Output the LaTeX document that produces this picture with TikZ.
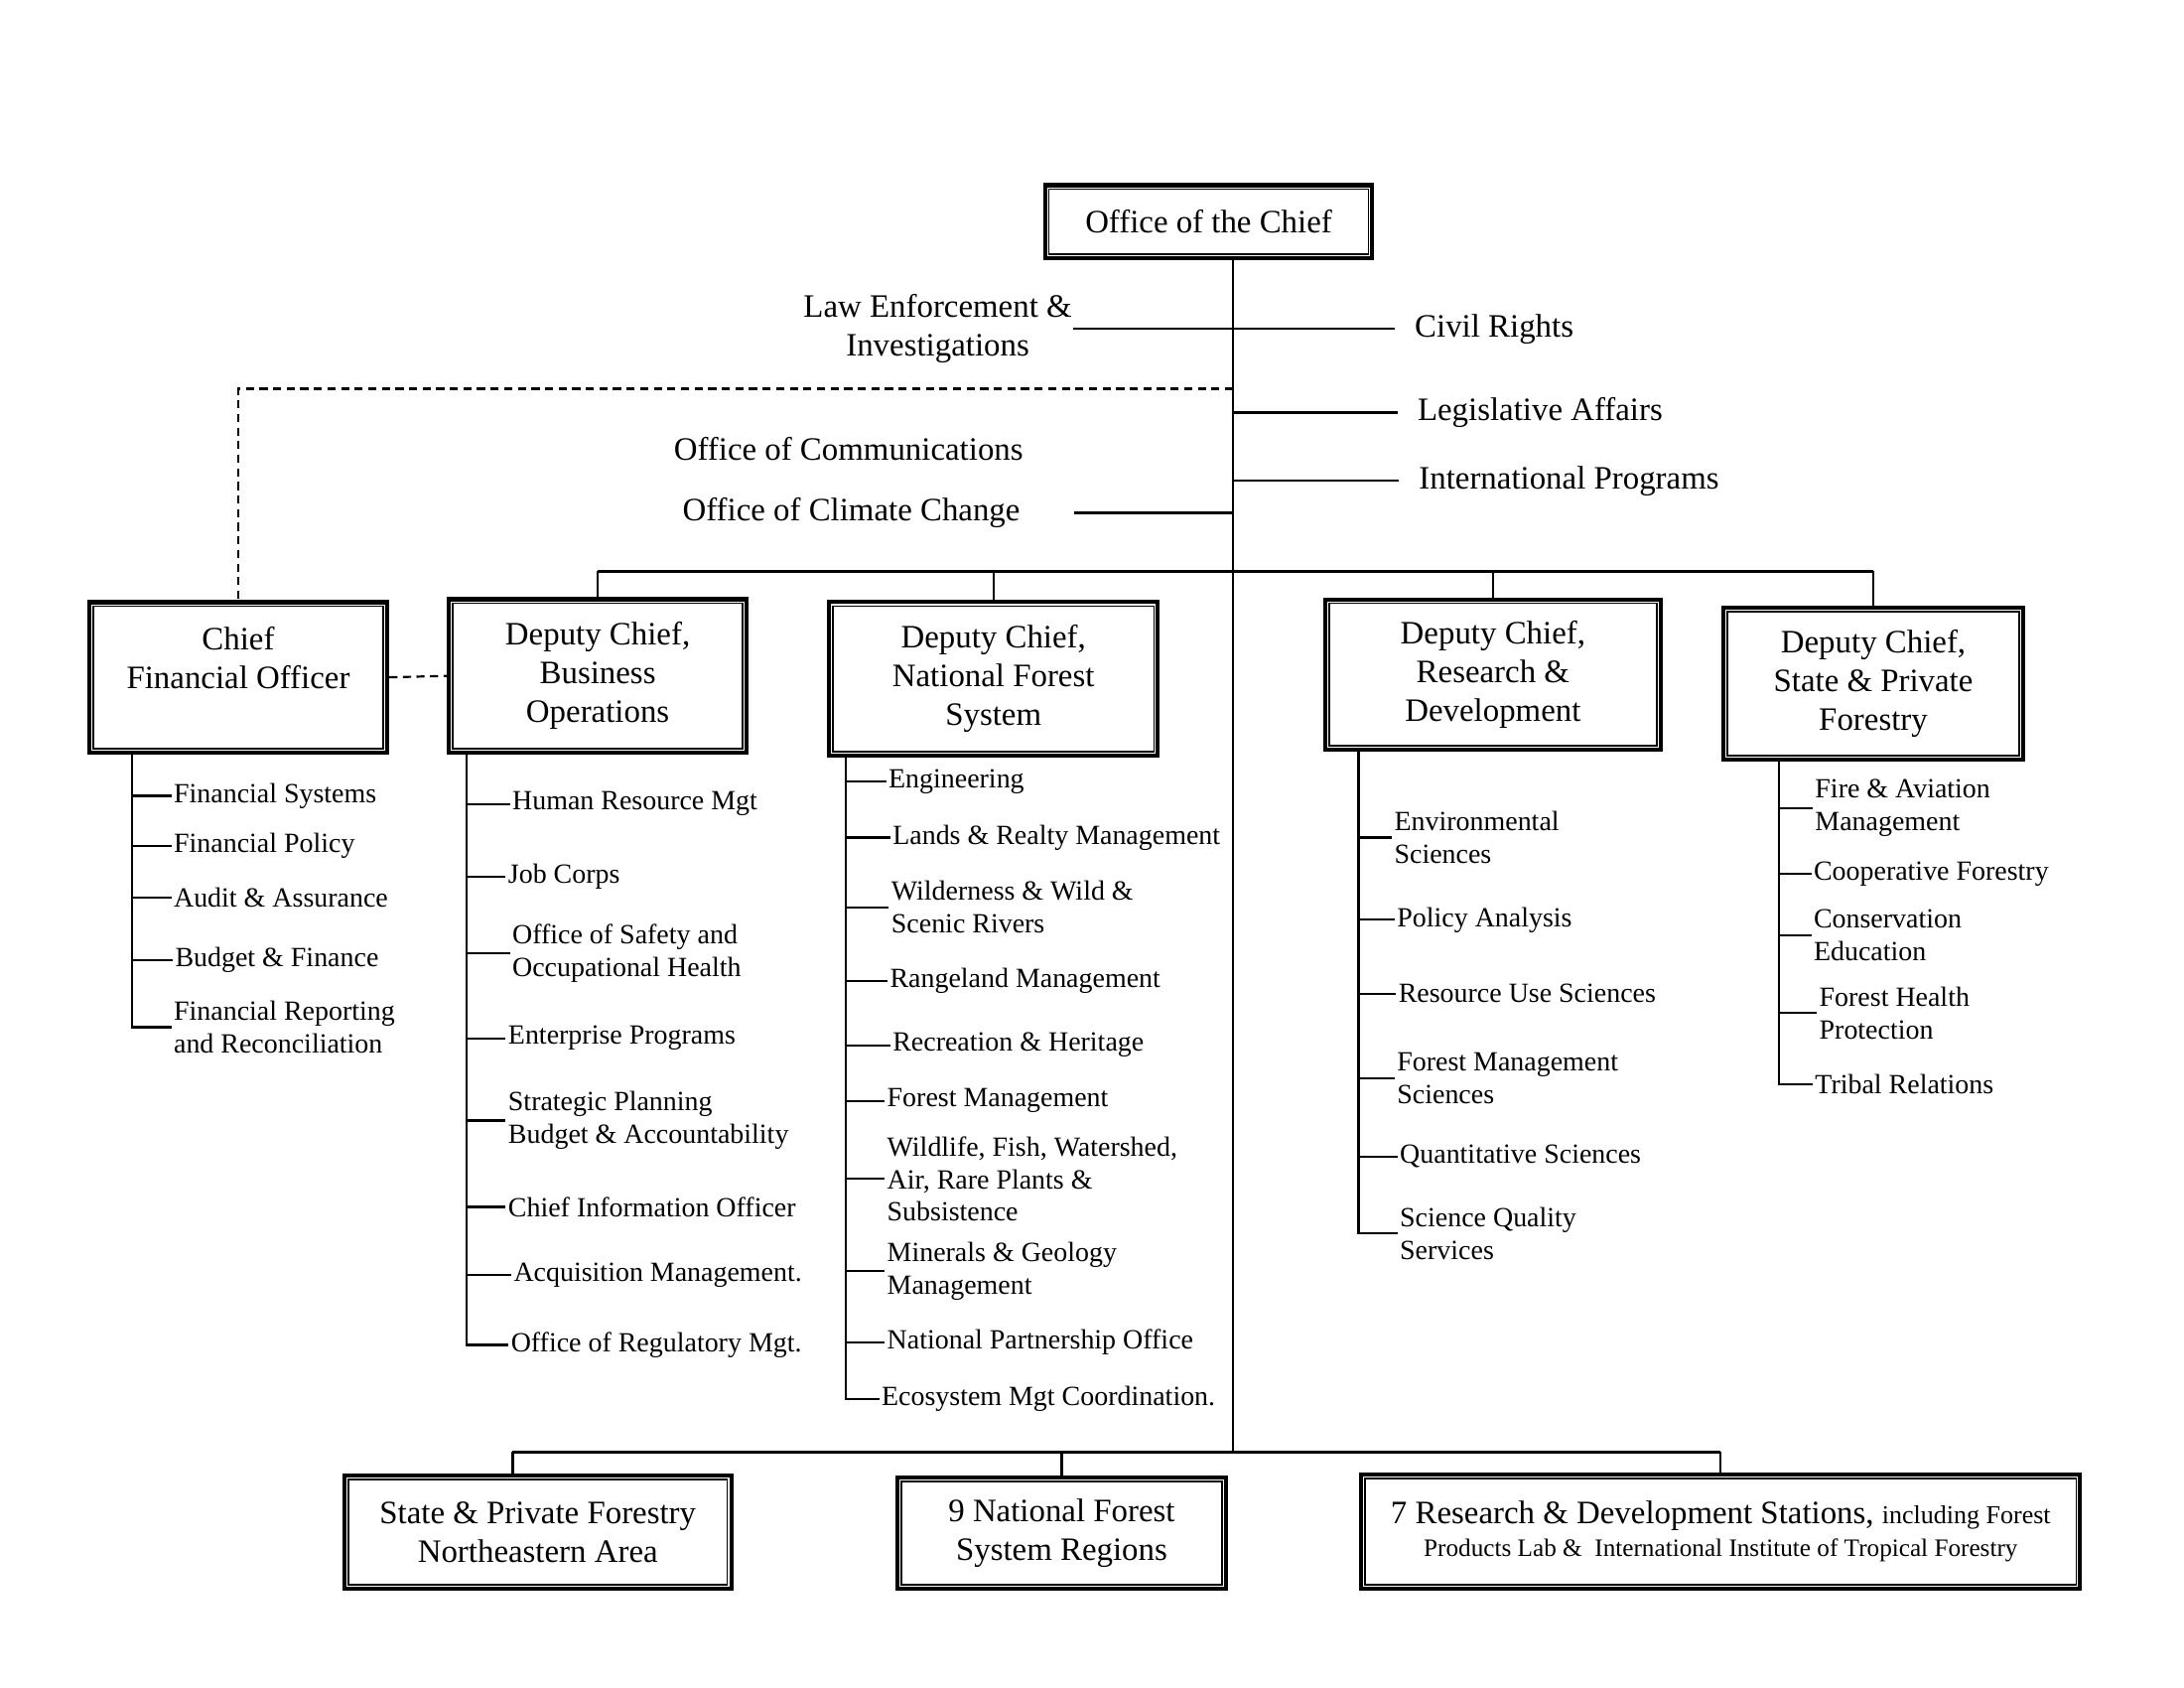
\documentclass[tikz,border=0pt]{standalone}
\usepackage{fontspec}
\setmainfont{Liberation Serif}
\usetikzlibrary{calc}
\tikzset{
orgbox/.style={draw, line width=1.5pt, align=center, inner sep=0pt, font=\fontsize{12}{14.2}\selectfont}, % double framed unit boxes
unit/.style={align=center, inner sep=0pt, font=\fontsize{12}{14.2}\selectfont}, % staff offices round the chief
item/.style={anchor=west, align=left, inner sep=0.5pt, font=\fontsize{10.2}{12}\selectfont}, % entries of the lists
bus/.style={line width=1.3pt}, % heavier feeder lines
}

\begin{document}
\begin{tikzpicture}[x=0.018cm, y=-0.018cm, line width=0.8pt]
\useasboundingbox (0,0) rectangle (1567.5,1211);

% boxes
\node[orgbox, minimum width=4.23cm, minimum height=0.94cm] (chief) at (867.5,159) {Office of the Chief};
\node[orgbox, minimum width=3.85cm, minimum height=1.94cm] (cfo) at (171,486) {Chief\\Financial Officer\\\mbox{}};
\node[orgbox, minimum width=3.85cm, minimum height=1.98cm] (bo) at (429,485) {Deputy Chief,\\Business\\Operations};
\node[orgbox, minimum width=4.25cm, minimum height=1.98cm] (nfs) at (713,487) {Deputy Chief,\\National Forest\\System};
\node[orgbox, minimum width=4.34cm, minimum height=1.94cm] (rd) at (1071.5,484) {Deputy Chief,\\Research \&\\Development};
\node[orgbox, minimum width=3.87cm, minimum height=1.96cm] (spf) at (1344.5,490.5) {Deputy Chief,\\State \& Private\\Forestry};
\node[orgbox, minimum width=5.00cm, minimum height=1.46cm] (spfna) at (386,1099.5) {State \& Private Forestry\\Northeastern Area};
\node[orgbox, minimum width=4.25cm, minimum height=1.44cm] (nfsr) at (762,1100) {9 National Forest\\System Regions};
\node[orgbox, minimum width=9.29cm, minimum height=1.48cm] (rds) at (1235,1099) {7 Research \& Development Stations, {\fontsize{9.5}{11}\selectfont including Forest}\\[-2pt]{\fontsize{9.2}{11}\selectfont Products Lab \& \ International Institute of Tropical Forestry}};
\foreach \b in {chief,cfo,bo,nfs,rd,spf,spfna,nfsr,rds}
  \draw[line width=0.6pt] ([shift={(2.2pt,-2.2pt)}]\b.north west) rectangle ([shift={(-2.2pt,2.2pt)}]\b.south east);

% staff offices
\coordinate (s) at (885,0);
\node[unit] (law) at (673,236) {Law Enforcement \&\\Investigations};
\node[unit, anchor=west, inner xsep=7pt] (civil) at (1001,236) {Civil Rights};
\node[unit, anchor=west, inner xsep=7pt] (legis) at (1003,296) {Legislative Affairs};
\node[unit, anchor=west, inner xsep=7pt] (intl) at (1004,345) {International Programs};
\node[unit] (comm) at (609,322) {Office of Communications};
\node[unit] (climate) at (611,368) {Office of Climate Change};
\coordinate (climend) at (771,368);
\draw (law.east) -- (civil.west);
\draw[bus] (legis.west -| s) -- (legis.west);
\draw (intl.west -| s) -- (intl.west);
\draw (climend) -- (climend -| s);

% spine and feeders
\coordinate (tbus) at (0,410);
\coordinate (bbus) at (0,1042);
\coordinate (nea) at (368,0);
\coordinate (dash) at (885,279);
\draw (chief.south -| s) -- (s |- bbus);
\draw[dashed, dash pattern=on 3pt off 2pt] (dash) -| (cfo.north);
\draw[dashed, dash pattern=on 3pt off 2pt] (cfo.east) -- (bo.west);
\draw[bus] (bo.north |- tbus) -- (spf.north |- tbus);
\foreach \b in {bo,nfs,rd,spf}
  \draw (\b.north) -- (\b.north |- tbus);
\draw[bus] (nea |- bbus) -- (rds.north |- bbus);
\draw (spfna.north -| nea) -- (nea |- bbus);
\foreach \b in {nfsr,rds}
  \draw (\b.north) -- (\b.north |- bbus);

% Chief Financial Officer
\coordinate (cfov) at (95,0);
\node[item] (cfo1) at (123,571) {Financial Systems};
\node[item] (cfo2) at (123,607) {Financial Policy};
\node[item] (cfo3) at (123,644) {Audit \& Assurance};
\node[item] (cfo4) at (124,689) {Budget \& Finance};
\node[item] (cfo5) at (123,737) {Financial Reporting\\and Reconciliation};
\draw (cfo.south -| cfov) |- (cfo5.west);
\foreach \n in {cfo1,cfo2,cfo3,cfo4}
  \draw (\n.west -| cfov) -- (\n.west);

% Business Operations
\coordinate (bov) at (335,0);
\node[item] (bo1) at (366,577) {Human Resource Mgt};
\node[item] (bo2) at (363,629) {Job Corps};
\node[item] (bo3) at (366,684) {Office of Safety and\\Occupational Health};
\node[item] (bo4) at (363,745) {Enterprise Programs};
\node[item] (bo5) at (363,804) {Strategic Planning\\Budget \& Accountability};
\node[item] (bo6) at (363,866) {Chief Information Officer};
\node[item] (bo7) at (367,915) {Acquisition Management.};
\node[item] (bo8) at (365,965) {Office of Regulatory Mgt.};
\draw (bo.south -| bov) |- (bo8.west);
\foreach \n in {bo1,bo2,bo3,bo4,bo5,bo6,bo7}
  \draw (\n.west -| bov) -- (\n.west);

% National Forest System
\coordinate (nfsv) at (607,0);
\node[item] (nfs1) at (636,561) {Engineering};
\node[item] (nfs2) at (639,601) {Lands \& Realty Management};
\node[item] (nfs3) at (638,651) {Wilderness \& Wild \&\\Scenic Rivers};
\node[item] (nfs4) at (637,704) {Rangeland Management};
\node[item] (nfs5) at (639,750) {Recreation \& Heritage};
\node[item] (nfs6) at (635,790) {Forest Management};
\node[item] (nfs7) at (635,846) {Wildlife, Fish, Watershed,\\Air, Rare Plants \&\\Subsistence};
\node[item] (nfs8) at (635,912) {Minerals \& Geology\\Management};
\node[item] (nfs9) at (635,963) {National Partnership Office};
\node[item] (nfs10) at (631,1004) {Ecosystem Mgt Coordination.};
\draw (nfs.south -| nfsv) |- (nfs10.west);
\foreach \n in {nfs1,nfs2,nfs3,nfs4,nfs5,nfs6,nfs7,nfs8,nfs9}
  \draw (\n.west -| nfsv) -- (\n.west);

% Research & Development
\coordinate (rdv) at (975,0);
\node[item] (rd1) at (999,601) {Environmental\\Sciences};
\node[item] (rd2) at (1001,660) {Policy Analysis};
\node[item] (rd3) at (1002,713) {Resource Use Sciences};
\node[item] (rd4) at (1001,774) {Forest Management\\Sciences};
\node[item] (rd5) at (1003,830) {Quantitative Sciences};
\node[item] (rd6) at (1003,885) {Science Quality\\Services};
\draw (rd.south -| rdv) |- (rd6.west);
\foreach \n in {rd1,rd2,rd3,rd4,rd5}
  \draw (\n.west -| rdv) -- (\n.west);

% State & Private Forestry
\coordinate (spfv) at (1277,0);
\node[item] (spf1) at (1301,580) {Fire \& Aviation\\Management};
\node[item] (spf2) at (1300,627) {Cooperative Forestry};
\node[item] (spf3) at (1300,671) {Conservation\\Education};
\node[item] (spf4) at (1304,727) {Forest Health\\Protection};
\node[item] (spf5) at (1301,778) {Tribal Relations};
\draw (spf.south -| spfv) |- (spf5.west);
\foreach \n in {spf1,spf2,spf3,spf4}
  \draw (\n.west -| spfv) -- (\n.west);
\end{tikzpicture}
\end{document}
